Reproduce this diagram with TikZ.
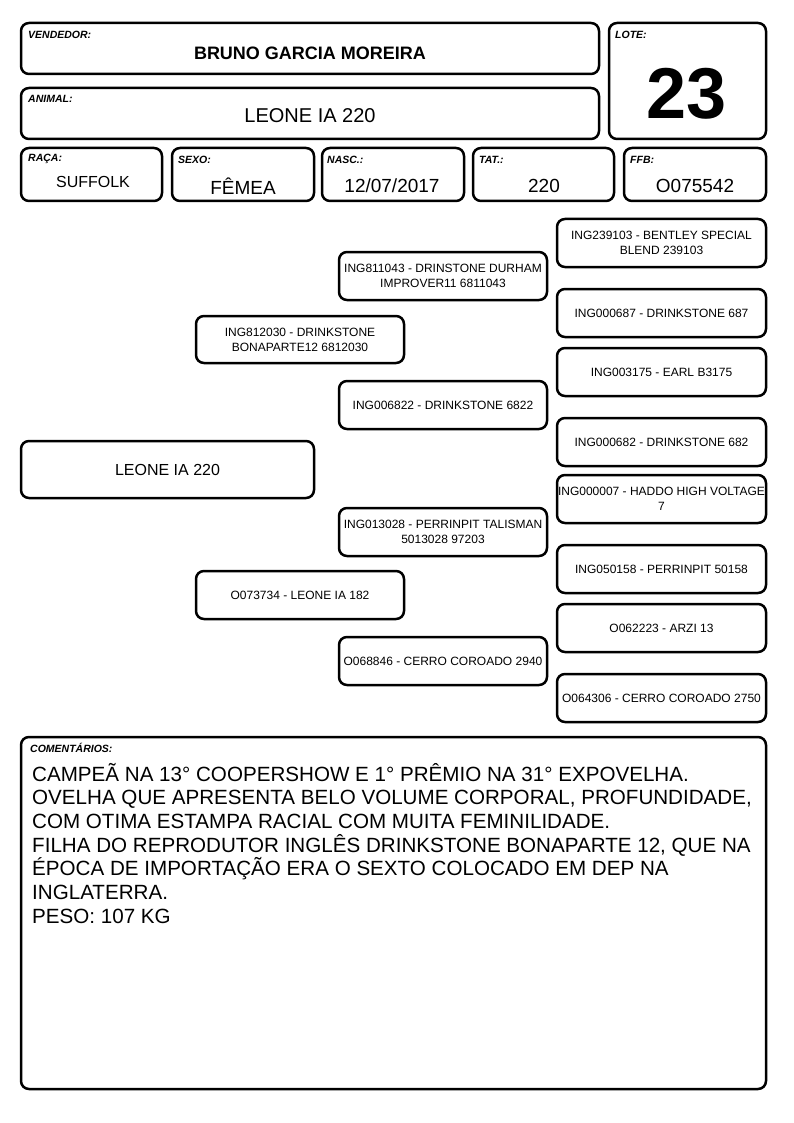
\documentclass[tikz,border=0pt]{standalone}
\usepackage{fontspec}
\setmainfont{Liberation Sans}
\begin{document}
\begin{tikzpicture}[x=1pt,y=-1pt,
  box/.style={draw, rounded corners=8pt, line width=2.5pt, inner sep=0pt},
  lbl/.style={anchor=west, inner sep=0pt, font=\fontsize{10.5}{12}\selectfont\bfseries\itshape},
  val/.style={inner sep=0pt, font=\fontsize{19}{22}\selectfont},
  ped/.style={box, minimum width=208pt, minimum height=48pt, align=center, font=\fontsize{12}{15}\selectfont, inner sep=1pt}]
\useasboundingbox (0,0) rectangle (794,1123);
% header
\node[box, minimum width=578pt, minimum height=51pt] (vend) at (310,48.5) {};
\node[lbl] (vendl) at (28,35) {VENDEDOR:};
\node[val, font=\fontsize{18}{20}\selectfont\bfseries] (vendv) at (310,53) {BRUNO GARCIA MOREIRA};
\node[box, minimum width=157pt, minimum height=116pt] (lote) at (687.5,81) {};
\node[lbl] (lotel) at (615,35) {LOTE:};
\node[val, font=\fontsize{72}{80}\selectfont\bfseries] (lotev) at (687,94) {23};
\node[box, minimum width=578pt, minimum height=51pt] (anim) at (310,113.5) {};
\node[lbl] (animl) at (28,99) {ANIMAL:};
\node[val, font=\fontsize{20}{22}\selectfont] (animv) at (310,116) {LEONE IA 220};
\node[box, minimum width=141pt, minimum height=53pt] (raca) at (91.5,174.5) {};
\node[lbl] (racal) at (28,159) {RAÇA:};
\node[val, font=\fontsize{16}{18}\selectfont] (racav) at (93,182) {SUFFOLK};
\node[box, minimum width=142pt, minimum height=53pt] (sexo) at (243,174.5) {};
\node[lbl] (sexol) at (178,160) {SEXO:};
\node[val] (sexov) at (243,186) {FÊMEA};
\node[box, minimum width=142pt, minimum height=53pt] (nasc) at (393,174.5) {};
\node[lbl] (nascl) at (327,160) {NASC.:};
\node[val] (nascv) at (392,186) {12/07/2017};
\node[box, minimum width=141pt, minimum height=53pt] (tat) at (543.5,174.5) {};
\node[lbl] (tatl) at (479,160) {TAT.:};
\node[val] (tatv) at (544,186) {220};
\node[box, minimum width=142pt, minimum height=53pt] (ffb) at (695,174.5) {};
\node[lbl] (ffbl) at (630,160) {FFB:};
\node[val] (ffbv) at (695,186) {O075542};
% pedigree
\node[box, minimum width=293pt, minimum height=57pt, font=\fontsize{16}{18}\selectfont] (p0) at (167.5,469.5) {LEONE IA 220};
\node[ped, minimum height=47pt] (p1) at (300,339.5) {ING812030 - DRINKSTONE\\BONAPARTE12 6812030};
\node[ped] (p2) at (300,595) {O073734 - LEONE IA 182};
\node[ped] (p3) at (443,276) {ING811043 - DRINSTONE DURHAM\\IMPROVER11 6811043};
\node[ped] (p4) at (443,405) {ING006822 - DRINKSTONE 6822};
\node[ped] (p5) at (443,532) {ING013028 - PERRINPIT TALISMAN\\5013028 97203};
\node[ped] (p6) at (443,661) {O068846 - CERRO COROADO 2940};
\node[ped, minimum width=209pt] (p7) at (661.5,243) {ING239103 - BENTLEY SPECIAL\\BLEND 239103};
\node[ped, minimum width=209pt] (p8) at (661.5,313) {ING000687 - DRINKSTONE 687};
\node[ped, minimum width=209pt] (p9) at (661.5,372) {ING003175 - EARL B3175};
\node[ped, minimum width=209pt] (p10) at (661.5,442) {ING000682 - DRINKSTONE 682};
\node[ped, minimum width=209pt] (p11) at (661.5,499) {ING000007 - HADDO HIGH VOLTAGE\\7};
\node[ped, minimum width=209pt] (p12) at (661.5,569) {ING050158 - PERRINPIT 50158};
\node[ped, minimum width=209pt] (p13) at (661.5,628) {O062223 - ARZI 13};
\node[ped, minimum width=209pt] (p14) at (661.5,698) {O064306 - CERRO COROADO 2750};
% comments
\node[box, minimum width=745pt, minimum height=352pt] (com) at (393.5,913) {};
\node[lbl] (coml) at (30,748) {COMENTÁRIOS:};
\node[anchor=base west, inner sep=0pt, font=\fontsize{20.6}{23.7}\selectfont] (comv) at (32,781) {\vtop{\baselineskip=23.7pt
\hbox{CAMPEÃ NA 13° COOPERSHOW E 1° PRÊMIO NA 31° EXPOVELHA.}
\hbox{OVELHA QUE APRESENTA BELO VOLUME CORPORAL, PROFUNDIDADE,}
\hbox{COM OTIMA ESTAMPA RACIAL COM MUITA FEMINILIDADE.}
\hbox{FILHA DO REPRODUTOR INGLÊS DRINKSTONE BONAPARTE 12, QUE NA}
\hbox{ÉPOCA DE IMPORTAÇÃO ERA O SEXTO COLOCADO EM DEP NA}
\hbox{INGLATERRA.}
\hbox{PESO: 107 KG}}};
\end{tikzpicture}
\end{document}
